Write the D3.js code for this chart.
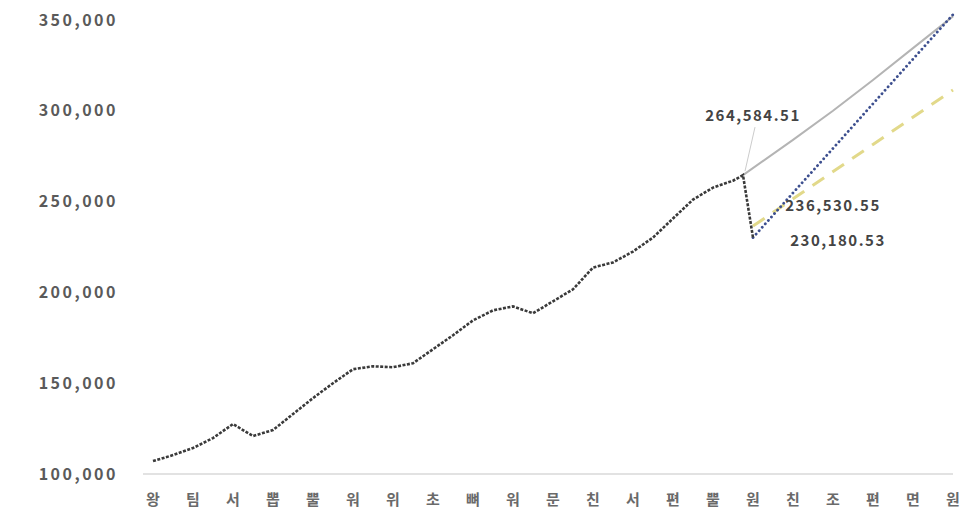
<!DOCTYPE html>
<html>
<head>
<meta charset="utf-8">
<script src="https://cdn.jsdelivr.net/npm/d3@7"></script>
<style>
  body { margin:0; background:#fff; }
  text { font-family: "Noto Sans CJK KR", "Noto Sans", sans-serif; }
</style>
</head>
<body>
<div id="vis-container"></div>
<script>
// x labels (one per year step)
let xLabels = ["왕","팀","서","뽑","뿔","워","위","초","뼈","워","문","친","서","편","뿔","원","친","조","편","면","원"];
let yTicks = [100000, 150000, 200000, 250000, 300000, 350000];

// actual series, half-step positions
let actualT = [0,0.5,1,1.5,2,2.5,3,3.5,4,4.5,5,5.5,6,6.5,7,7.5,8,8.5,9,9.5,10,10.5,11,11.5,12,12.5,13,13.5,14,14.5,14.75,15];
let actualV = [107100,110400,114300,119800,127500,120900,124200,133000,141800,150000,157700,159300,158800,161000,168700,176400,184600,190100,192300,188500,195100,201700,213700,216500,222500,230200,240700,251100,257700,261500,264584.51,230180.53];

// forecast lines
let trendT = [14.75,16,17,18,19,20];
let trendV = [264584.51,284000,300000,317000,334500,352000];
let recoverT = [15,16,17,18,19,20];
let recoverV = [230180.53,254800,279300,303900,328500,353000];
let slowT = [15,16.5,18,20];
let slowV = [236530.55,259000,281500,311500];

let notes = [
  {t:14.75, v:264584.51, text:"264,584.51"},
  {t:15, v:236530.55, text:"236,530.55"},
  {t:15, v:230180.53, text:"230,180.53"}
];

let width = 964, height = 512;

let svg = d3.select("#vis-container")
  .append("svg")
  .attr("width", width)
  .attr("height", height);

let x = d3.scaleLinear().domain([0,20]).range([153,953]);
let y = d3.scaleLinear().domain([100000,350000]).range([474,20]);

// baseline
svg.append("line")
  .attr("x1", 143).attr("x2", 953)
  .attr("y1", y(100000)).attr("y2", y(100000))
  .attr("stroke", "#d8d8d8")
  .attr("stroke-width", 1.5);

// y labels
svg.selectAll(".ylab")
  .data(yTicks)
  .enter()
  .append("text")
  .attr("class", "ylab")
  .attr("x", 118)
  .attr("y", d=>{return y(d);})
  .attr("dy", "0.35em")
  .attr("text-anchor", "end")
  .attr("font-size", "16px")
  .attr("letter-spacing", "2.5px")
  .attr("font-weight", "bold")
  .attr("fill", "#5a5a5a")
  .text(d=>{return d3.format(",")(d);});

// x labels
svg.selectAll(".xlab")
  .data(xLabels)
  .enter()
  .append("text")
  .attr("class", "xlab")
  .attr("x", (d,i)=>{return x(i);})
  .attr("y", 505)
  .attr("text-anchor", "middle")
  .attr("font-size", "15px")
  .attr("font-weight", "bold")
  .attr("fill", "#6a6a6a")
  .text(d=>{return d;});

let line = d3.line()
  .x(d=>{return x(d[0]);})
  .y(d=>{return y(d[1]);});

function pairs(ts, vs){
  return ts.map((t,i)=>{return [t, vs[i]];});
}

// gray trend
svg.append("path")
  .datum(pairs(trendT, trendV))
  .attr("d", line)
  .attr("fill", "none")
  .attr("stroke", "#b4b4b4")
  .attr("stroke-width", 2);

// yellow dashed
svg.append("path")
  .datum(pairs(slowT, slowV))
  .attr("d", line)
  .attr("fill", "none")
  .attr("stroke", "#e2d98a")
  .attr("stroke-width", 3)
  .attr("stroke-dasharray", "14,10");

// blue dotted
svg.append("path")
  .datum(pairs(recoverT, recoverV))
  .attr("d", line)
  .attr("fill", "none")
  .attr("stroke", "#3d4f8f")
  .attr("stroke-width", 2.8)
  .attr("stroke-linecap", "round")
  .attr("stroke-dasharray", "0.1,4.5");

// actual
svg.append("path")
  .datum(pairs(actualT, actualV))
  .attr("d", line)
  .attr("fill", "none")
  .attr("stroke", "#3a3a3a")
  .attr("stroke-width", 2.6)
  .attr("stroke-dasharray", "3,1.5");

// leader for top note
svg.append("line")
  .attr("x1", x(14.75)+2).attr("y1", y(264584.51)-4)
  .attr("x2", x(14.75)+12).attr("y2", y(264584.51)-48)
  .attr("stroke", "#ccc")
  .attr("stroke-width", 1);

// notes
svg.selectAll(".note")
  .data(notes)
  .enter()
  .append("text")
  .attr("class", "note")
  .attr("x", (d,i)=>{return i==0 ? x(d.t)+10 : (i==1 ? x(d.t)+80 : x(d.t)+85);})
  .attr("y", (d,i)=>{return i==0 ? 116 : (i==1 ? 206 : 241);})
  .attr("dy", "0.35em")
  .attr("text-anchor", "middle")
  .attr("font-size", "15px")
  .attr("letter-spacing", "1.5px")
  .attr("font-weight", "bold")
  .attr("fill", "#444")
  .text(d=>{return d.text;});
</script>
</body>
</html>
